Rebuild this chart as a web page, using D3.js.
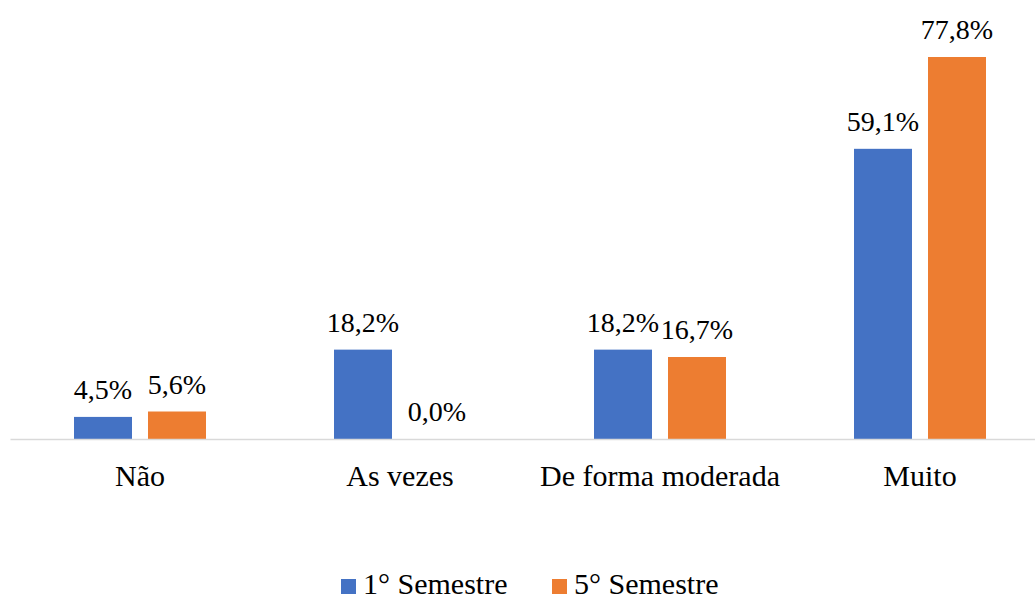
<!DOCTYPE html>
<html><head><meta charset="utf-8">
<script src="https://cdn.jsdelivr.net/npm/d3@7"></script>
</head><body style="margin:0"><svg id="c" width="1035" height="599" style="display:block"></svg>
<script>
const categories = ["Não", "As vezes", "De forma moderada", "Muito"];
const seriesNames = ["1° Semestre", "5° Semestre"];
const sem1 = [4.5, 18.2, 18.2, 59.1];
const sem5 = [5.6, 0.0, 16.7, 77.8];
const colors = ["#4472C4", "#ED7D31"];

const FONT = '"Tinos", "Liberation Serif", "Times New Roman", "FreeSerif", serif';
const FS = 30;
const FSL = 28;
const svg = d3.select("#c").attr("font-family", FONT);
const baseY = 439;
const x = d3.scaleBand().domain(categories).range([10, 1050]).padding(0);
const groupW = 132;
const xi = d3.scaleBand().domain(seriesNames).range([0, groupW]).paddingInner(16/74).paddingOuter(0);
const y = d3.scaleLinear().domain([0, 80]).range([baseY, baseY - 80*4.91]);
const fmt = v => v.toFixed(1).replace(".", ",") + "%";

const data = categories.map((c, i) => ({cat: c, vals: [sem1[i], sem5[i]]}));
const g = svg.append("g");
data.forEach(d => {
  const gx = x(d.cat) + (x.bandwidth() - groupW) / 2;
  d.vals.forEach((v, j) => {
    const bx = gx + xi(seriesNames[j]);
    g.append("rect").attr("x", bx).attr("y", y(v)).attr("width", xi.bandwidth())
      .attr("height", baseY - y(v)).attr("fill", colors[j]);
    g.append("text").attr("x", bx + xi.bandwidth()/2).attr("y", y(v) - 18)
      .attr("text-anchor", "middle").attr("font-size", FSL).style("font-family", FONT)
      .text(fmt(v));
  });
});

// axis
const ax = svg.append("g").attr("transform", `translate(0,${baseY})`)
  .call(d3.axisBottom(x).tickSize(0).tickPadding(0));
ax.attr("font-family", null).attr("font-size", null);
ax.select(".domain").attr("stroke", "#d9d9d9").attr("stroke-width", 1.5);
ax.selectAll(".tick text").attr("font-size", FS).style("font-family", FONT)
  .attr("fill", "#000").attr("dy", null).attr("y", 47);

// legend
const legend = svg.append("g");
const lx = [341, 552];
seriesNames.forEach((s, j) => {
  legend.append("rect").attr("x", lx[j]).attr("y", 579).attr("width", 15).attr("height", 15).attr("fill", colors[j]);
  legend.append("text").attr("x", lx[j] + 22).attr("y", 594).attr("font-size", FS)
    .style("font-family", FONT).text(s);
});
</script></body></html>
